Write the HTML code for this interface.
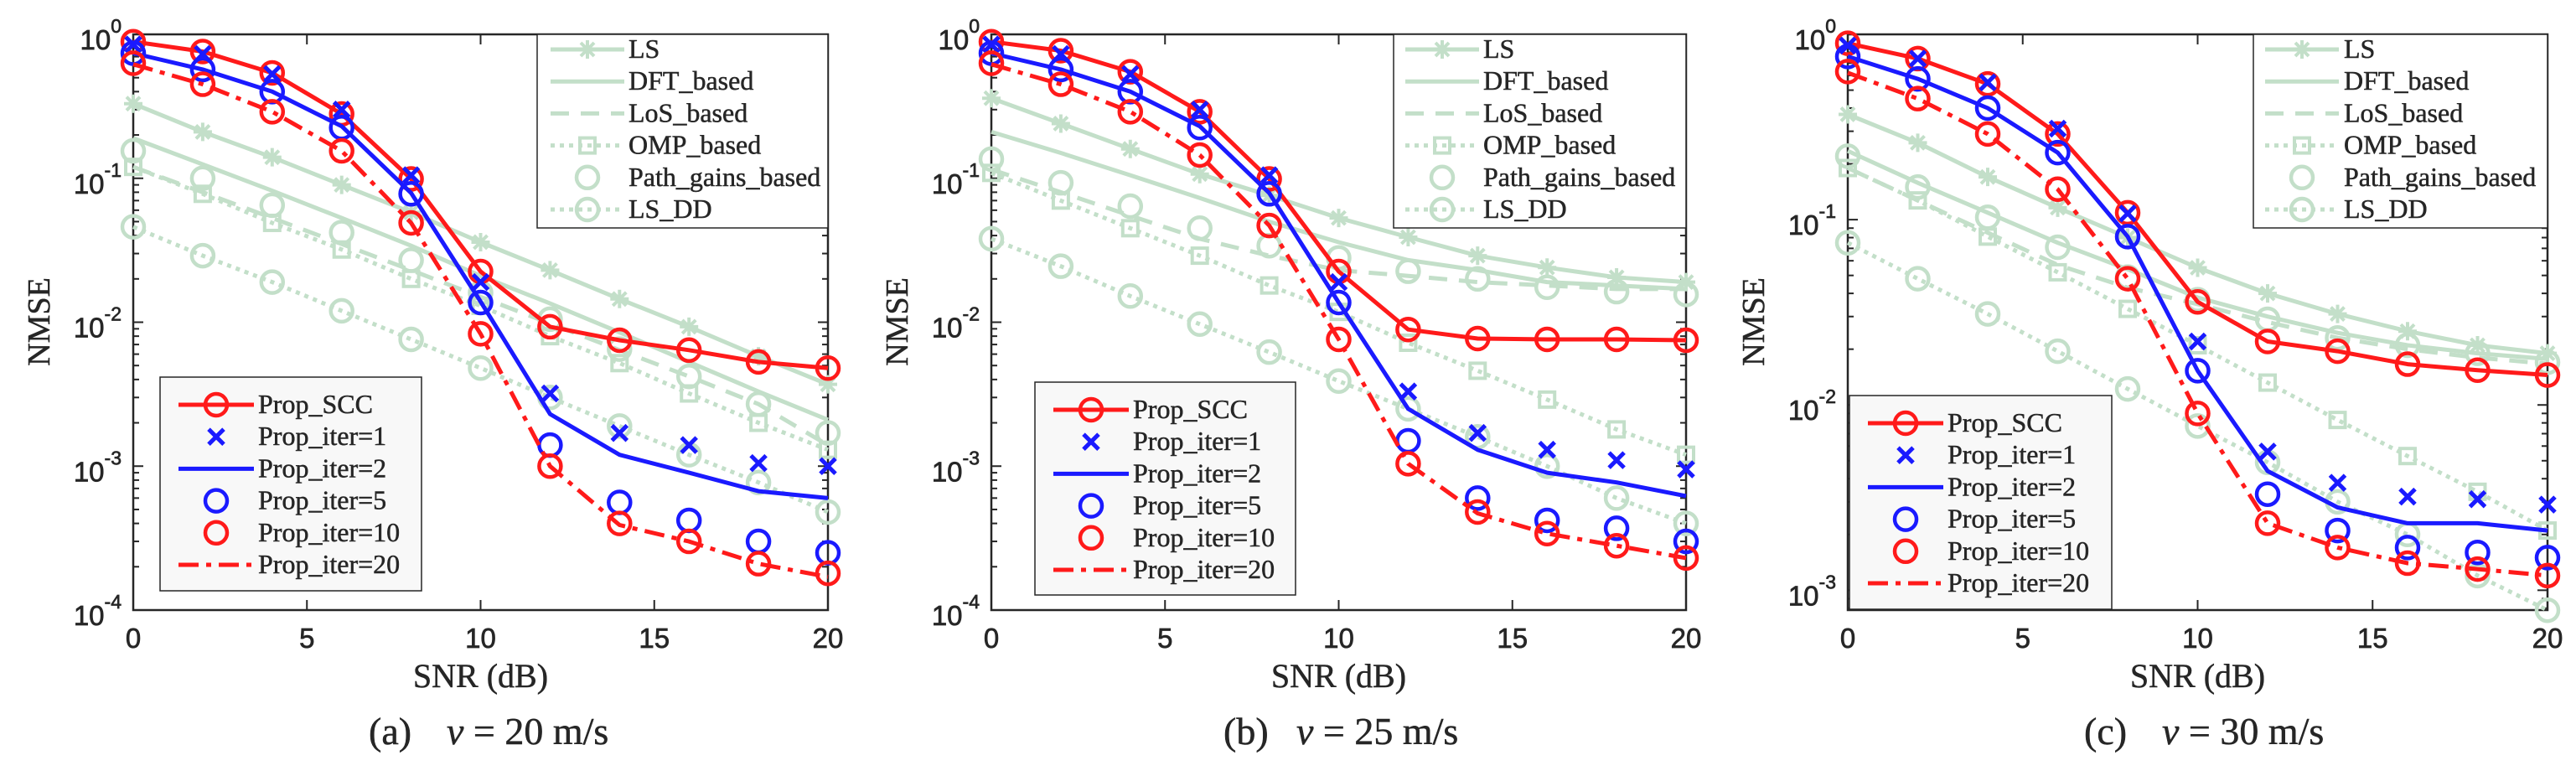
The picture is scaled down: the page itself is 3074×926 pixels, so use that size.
<!DOCTYPE html>
<html><head><meta charset="utf-8"><style>
html,body{margin:0;padding:0;background:#fff;}
svg{display:block;}
text{font-family:"Liberation Serif",serif;fill:#262626;stroke:#262626;stroke-width:0.5px;}
.tick{font-family:"Liberation Sans",sans-serif;font-size:33px;stroke-width:0.7px;}
</style></head><body>
<svg id="fig" width="3074" height="926" viewBox="0 0 3074 926" xmlns="http://www.w3.org/2000/svg"></svg>
<script>
const snr = [0,2,4,6,8,10,12,14,16,18,20];
const xTicks = [0,5,10,15,20];
// Panel (a) v=20
const LS_a   = [0.33,0.21,0.14,0.09,0.058,0.036,0.023,0.0145,0.0093,0.0058,0.0037];
const DFT_a  = [0.19,0.125,0.082,0.053,0.034,0.021,0.0135,0.0085,0.0053,0.0033,0.0021];
const LoS_a  = [0.12,0.08,0.053,0.035,0.023,0.015,0.0098,0.0064,0.0042,0.0027,0.0014];
const OMP_a  = [0.12,0.078,0.049,0.032,0.020,0.013,0.008,0.0052,0.0032,0.002,0.0013];
const PG_a   = [0.155,0.1,0.065,0.042,0.027,0.016,0.0105,0.0065,0.0042,0.0027,0.0017];
const LSDD_a = [0.046,0.029,0.019,0.012,0.0076,0.0048,0.003,0.0019,0.0012,0.00077,0.00048];
const SCC_a  = [0.89,0.76,0.54,0.28,0.099,0.0225,0.0093,0.0075,0.0064,0.0053,0.0048];
const IT1_a  = [0.85,0.73,0.53,0.30,0.105,0.019,0.0032,0.0017,0.0014,0.00105,0.001];
const IT2_a  = [0.74,0.57,0.40,0.23,0.079,0.0139,0.0023,0.0012,0.0009,0.00067,0.0006];
const IT5_a  = [0.74,0.57,0.40,0.225,0.078,0.0137,0.0014,0.00056,0.00042,0.0003,0.00025];
const IT10_a = [0.63,0.45,0.29,0.155,0.049,0.0083,0.001,0.0004,0.0003,0.00021,0.00018];
const IT20_a = [0.62,0.45,0.29,0.155,0.049,0.0083,0.001,0.00039,0.0003,0.00021,0.00017];
// Panel (b) v=25
const LS_b   = [0.36,0.24,0.16,0.107,0.076,0.053,0.039,0.029,0.024,0.0205,0.019];
const DFT_b  = [0.21,0.15,0.105,0.073,0.05,0.036,0.027,0.023,0.019,0.018,0.017];
const LoS_b  = [0.115,0.08,0.055,0.038,0.029,0.023,0.021,0.019,0.018,0.017,0.017];
const OMP_b  = [0.109,0.07,0.045,0.029,0.018,0.0118,0.0072,0.0046,0.0029,0.0018,0.0012];
const PG_b   = [0.136,0.093,0.064,0.045,0.034,0.028,0.0226,0.02,0.0175,0.0163,0.0156];
const LSDD_b = [0.038,0.0245,0.0152,0.0097,0.0062,0.0039,0.0025,0.0016,0.001,0.0006,0.0004];
const SCC_b  = [0.89,0.77,0.55,0.29,0.099,0.0225,0.0089,0.0077,0.0076,0.0076,0.0075];
const IT1_b  = [0.85,0.73,0.53,0.30,0.105,0.019,0.0033,0.0017,0.0013,0.0011,0.00095];
const IT2_b  = [0.74,0.57,0.40,0.23,0.079,0.0137,0.0025,0.0013,0.0009,0.00077,0.00062];
const IT5_b  = [0.74,0.57,0.40,0.225,0.078,0.0137,0.0015,0.0006,0.00042,0.00037,0.0003];
const IT10_b = [0.63,0.45,0.29,0.145,0.047,0.0076,0.00104,0.00048,0.00034,0.00028,0.00023];
const IT20_b = [0.62,0.45,0.29,0.145,0.047,0.0076,0.00104,0.00047,0.00034,0.00028,0.00023];
// Panel (c) v=30
const LS_c   = [0.37,0.26,0.17,0.116,0.08,0.055,0.04,0.031,0.025,0.021,0.019];
const DFT_c  = [0.235,0.158,0.109,0.075,0.054,0.038,0.03,0.0245,0.021,0.019,0.0177];
const LoS_c  = [0.19,0.127,0.085,0.057,0.043,0.035,0.028,0.023,0.02,0.018,0.0167];
const OMP_c  = [0.19,0.127,0.081,0.052,0.033,0.021,0.0132,0.0083,0.0053,0.0034,0.0021];
const PG_c   = [0.22,0.15,0.103,0.071,0.049,0.037,0.029,0.023,0.021,0.019,0.017];
const LSDD_c = [0.075,0.048,0.031,0.0195,0.0122,0.0077,0.0049,0.003,0.002,0.0012,0.00078];
const SCC_c  = [0.895,0.74,0.54,0.29,0.109,0.036,0.022,0.0195,0.0166,0.0154,0.0145];
const IT1_c  = [0.87,0.74,0.55,0.31,0.108,0.022,0.0056,0.0038,0.0032,0.0031,0.0029];
const IT2_c  = [0.76,0.575,0.4,0.23,0.081,0.0153,0.0044,0.0028,0.0023,0.0023,0.0021];
const IT5_c  = [0.76,0.575,0.4,0.23,0.081,0.0153,0.0033,0.0021,0.0017,0.0016,0.0015];
const IT10_c = [0.63,0.45,0.29,0.146,0.048,0.009,0.0023,0.0017,0.0014,0.0013,0.0012];
const IT20_c = [0.62,0.45,0.29,0.146,0.048,0.009,0.0023,0.0017,0.0014,0.0013,0.0012];

const decadesAB = [0,-1,-2,-3,-4];
const decadesC = [0,-1,-2,-3];
const legendTopLabels = ["LS","DFT_based","LoS_based","OMP_based","Path_gains_based","LS_DD"];
const legendBotLabels = ["Prop_SCC","Prop_iter=1","Prop_iter=2","Prop_iter=5","Prop_iter=10","Prop_iter=20"];

const NS = "http://www.w3.org/2000/svg";
const svg = document.getElementById('fig');
const G = "#c3dfc9", RED = "#ff1a1a", BLUE = "#1a1aff", AX = "#262626";
function mk(tag, attrs, parent){ const e=document.createElementNS(NS,tag); for(const k in attrs) e.setAttribute(k,attrs[k]); (parent||svg).appendChild(e); return e; }

const styles = {
  LS:{color:G,w:5,dash:null,marker:'star'}, DFT:{color:G,w:5,dash:null,marker:null},
  LoS:{color:G,w:5,dash:'22 14',marker:null}, OMP:{color:G,w:5,dash:'5 6',marker:'square'},
  PG:{color:G,w:0,dash:null,marker:'circle'}, LSDD:{color:G,w:5,dash:'5 6',marker:'circle'},
  SCC:{color:RED,w:5,dash:null,marker:'circle'}, IT1:{color:BLUE,w:0,dash:null,marker:'x'},
  IT2:{color:BLUE,w:5,dash:null,marker:null}, IT5:{color:BLUE,w:0,dash:null,marker:'circle'},
  IT10:{color:RED,w:0,dash:null,marker:'circle'}, IT20:{color:RED,w:5,dash:'24 9 6 9',marker:null}
};
function marker(g,type,x,y,color){
  if(type==='circle') mk('circle',{cx:x,cy:y,r:13,fill:'none',stroke:color,'stroke-width':4.5},g);
  else if(type==='square') mk('rect',{x:x-9,y:y-9,width:18,height:18,fill:'none',stroke:color,'stroke-width':4},g);
  else if(type==='x'){ const d=9; mk('path',{d:`M${x-d} ${y-d}L${x+d} ${y+d}M${x-d} ${y+d}L${x+d} ${y-d}`,stroke:color,'stroke-width':5,fill:'none'},g); }
  else if(type==='star'){ const d=11,e=8; mk('path',{d:`M${x-d} ${y}L${x+d} ${y}M${x} ${y-d}L${x} ${y+d}M${x-e} ${y-e}L${x+e} ${y+e}M${x-e} ${y+e}L${x+e} ${y-e}`,stroke:color,'stroke-width':4,fill:'none'},g); }
}

function panel(id, L, R, T, B, ymin, decades, series, legTop, legBot, capX, capVX, capLetter, speed){
  const pg = mk('g',{});
  
  
  const X = v => L + (v-0)/(20-0)*(R-L);
  const Y = v => T + (0-Math.log10(v))/(0-ymin)*(B-T);
  const box = mk('rect',{x:L,y:T,width:R-L,height:B-T,fill:'none',stroke:AX,'stroke-width':2.5},pg);
  
  
  xTicks.forEach(t=>{
    const x=X(t);
    mk('line',{x1:x,y1:B,x2:x,y2:B-12,stroke:AX,'stroke-width':2},pg);
    mk('line',{x1:x,y1:T,x2:x,y2:T+12,stroke:AX,'stroke-width':2},pg);
    const tx=mk('text',{x:x,y:773,'text-anchor':'middle',class:'tick'},pg);
    tx.textContent=t;
    
    
  });
  decades.forEach(d=>{
    const y=T+(0-d)/(0-ymin)*(B-T);
    mk('line',{x1:L,y1:y,x2:L+12,y2:y,stroke:AX,'stroke-width':2},pg);
    mk('line',{x1:R,y1:y,x2:R-12,y2:y,stroke:AX,'stroke-width':2},pg);
    const tx=mk('text',{x:L-14,y:y+18,'text-anchor':'end',class:'tick'},pg);
    
    
    const t1=mk('tspan',{},tx); t1.textContent='10';
    const t2=mk('tspan',{dy:-20,'font-size':23},tx); t2.textContent=String(d);
    for(let m=2;m<=9;m++){
      const v=Math.pow(10,d-1)*m; const lv=Math.log10(v);
      if(lv<ymin) continue;
      const yy=Y(v);
      mk('line',{x1:L,y1:yy,x2:L+7,y2:yy,stroke:AX,'stroke-width':2},pg);
      mk('line',{x1:R,y1:yy,x2:R-7,y2:yy,stroke:AX,'stroke-width':2},pg);
    }
  });
  const order=['LS','DFT','LoS','OMP','PG','LSDD','SCC','IT1','IT2','IT5','IT10','IT20'];
  order.forEach(k=>{
    const st=styles[k], vals=series[k];
    const g=mk('g',{},pg);
    
    
    if(st.w>0){
      const d=vals.map((v,i)=>(i?'L':'M')+X(snr[i]).toFixed(1)+' '+Y(v).toFixed(1)).join('');
      const p=mk('path',{d:d,fill:'none',stroke:st.color,'stroke-width':st.w,'stroke-linejoin':'round'},g);
      if(st.dash) p.setAttribute('stroke-dasharray',st.dash);
    }
    if(st.marker) vals.forEach((v,i)=>marker(g,st.marker,X(snr[i]),Y(v),st.color));
  });
  function legend(box,labels,keys,fill,name){
    const g=mk('g',{},pg);
    
    
    mk('rect',{x:box.x,y:box.y,width:box.w,height:box.h,fill:fill,stroke:AX,'stroke-width':1.5},g);
    labels.forEach((lab,i)=>{
      const y=box.row0+i*box.dy; const st=styles[keys[i]];
      const e=mk('g',{},g);
      
      
      if(st.w>0){ const l=mk('line',{x1:box.l1,y1:y,x2:box.l2,y2:y,stroke:st.color,'stroke-width':st.w},e); if(st.dash) l.setAttribute('stroke-dasharray',st.dash); }
      if(st.marker) marker(e,st.marker,(box.l1+box.l2)/2,y,st.color);
      const t=mk('text',{x:box.tx,y:y+10,'font-size':32},e); t.textContent=lab;
    });
  }
  legend(legTop,legendTopLabels,['LS','DFT','LoS','OMP','PG','LSDD'],'#ffffff','legend-baselines-'+id);
  legend(legBot,legendBotLabels,['SCC','IT1','IT2','IT5','IT10','IT20'],'#f8f8f8','legend-proposed-'+id);
  const yl=mk('text',{x:0,y:0,'font-size':38,'text-anchor':'middle',transform:`translate(${L-100},384) rotate(-90)`},pg);
  yl.textContent='NMSE';
  
  
  const xl=mk('text',{x:(L+R)/2,y:820,'font-size':40,'text-anchor':'middle'},pg);
  xl.textContent='SNR (dB)';
  
  
  const cap=mk('text',{x:capX,y:888,'font-size':46},pg);
  
  
  const c1=mk('tspan',{},cap); c1.textContent='('+capLetter+')';
  const c2=mk('tspan',{x:capVX,'font-style':'italic'},cap); c2.textContent='v';
  const c3=mk('tspan',{},cap); c3.textContent=' = '+speed+' m/s';
}

panel('a',159,988,41,728,-4,decadesAB,
  {LS:LS_a,DFT:DFT_a,LoS:LoS_a,OMP:OMP_a,PG:PG_a,LSDD:LSDD_a,SCC:SCC_a,IT1:IT1_a,IT2:IT2_a,IT5:IT5_a,IT10:IT10_a,IT20:IT20_a},
  {x:641,y:41,w:347,h:231,row0:59,dy:38.2,l1:657,l2:745,tx:750},
  {x:191,y:450,w:312,h:255,row0:483,dy:38.2,l1:213,l2:303,tx:308},
  440,533,'a',20);
panel('b',1183,2012,41,728,-4,decadesAB,
  {LS:LS_b,DFT:DFT_b,LoS:LoS_b,OMP:OMP_b,PG:PG_b,LSDD:LSDD_b,SCC:SCC_b,IT1:IT1_b,IT2:IT2_b,IT5:IT5_b,IT10:IT10_b,IT20:IT20_b},
  {x:1663,y:41,w:349,h:231,row0:59,dy:38.2,l1:1677,l2:1765,tx:1770},
  {x:1235,y:456,w:311,h:254,row0:489,dy:38.2,l1:1257,l2:1347,tx:1352},
  1460,1547,'b',25);
panel('c',2205,3040,41,728,-3.107,decadesC,
  {LS:LS_c,DFT:DFT_c,LoS:LoS_c,OMP:OMP_c,PG:PG_c,LSDD:LSDD_c,SCC:SCC_c,IT1:IT1_c,IT2:IT2_c,IT5:IT5_c,IT10:IT10_c,IT20:IT20_c},
  {x:2689,y:41,w:351,h:231,row0:59,dy:38.2,l1:2703,l2:2791,tx:2797},
  {x:2207,y:472,w:313,h:255,row0:505,dy:38.2,l1:2229,l2:2319,tx:2324},
  2487,2580,'c',30);
</script>
</body></html>
